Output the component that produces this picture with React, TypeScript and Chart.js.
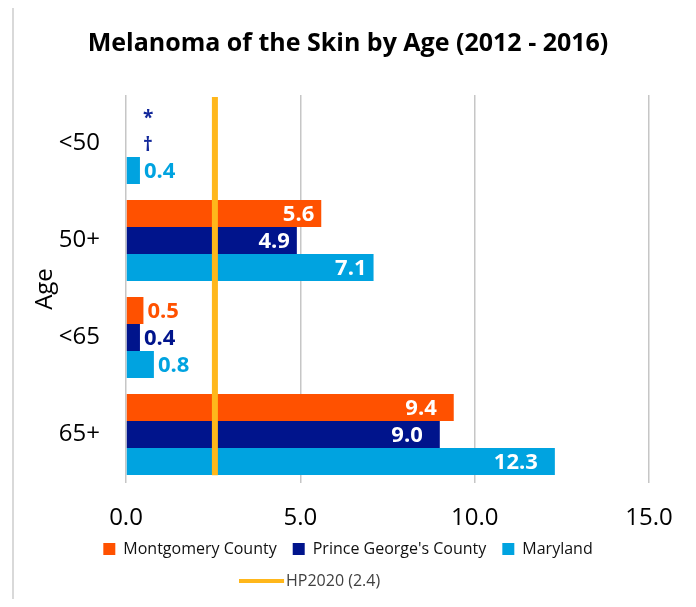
import React, { useEffect, useRef } from "react";
import { Chart, registerables } from "chart.js";

Chart.register(...registerables);

// ---- data ----
const ageGroups = ["<50", "50+", "<65", "65+"];
const seriesNames = ["Montgomery County", "Prince George's County", "Maryland"];
const montgomery: (number | null)[] = [null, 5.6, 0.5, 9.4];
const princeGeorges: (number | null)[] = [null, 4.9, 0.4, 9.0];
const maryland: (number | null)[] = [0.4, 7.1, 0.8, 12.3];
const montgomeryNotes = ["*", "", "", ""];
const princeGeorgesNotes = ["\u2020", "", "", ""];
const marylandNotes = ["", "", "", ""];
const hpLabel = "HP2020 (2.4)";
const hpTarget = 2.55; // where the target line is drawn in the picture
const hpSpan = [0.02, 0.995]; // vertical extent of the target line (secondary axis 0..1)
const xTickValues = [0, 5, 10, 15];

// ---- styles ----
const COLORS = ["#FF5100", "#00148C", "#00A3E0"];
const HP_COLOR = "#FFB71B";
const NOTE_COLOR = "#13289A";
const FONT = "'Open Sans', sans-serif";

const hpLinePlugin = {
  id: "hpLine",
  afterDatasetsDraw(chart: any) {
    const ctx = chart.ctx;
    const xs = chart.scales.x;
    const ys = chart.scales.yHP;
    const x = xs.getPixelForValue(hpTarget);
    ctx.save();
    ctx.strokeStyle = HP_COLOR;
    ctx.lineWidth = 6;
    ctx.beginPath();
    ctx.moveTo(x, ys.getPixelForValue(hpSpan[0]));
    ctx.lineTo(x, ys.getPixelForValue(hpSpan[1]));
    ctx.stroke();
    ctx.restore();
  },
};

const labelsPlugin = {
  id: "barLabels",
  afterDatasetsDraw(chart: any) {
    const ctx = chart.ctx;
    const xScale = chart.scales.x;
    ctx.save();
    ctx.textBaseline = "middle";
    chart.data.datasets.forEach((ds: any, di: number) => {
      const meta = chart.getDatasetMeta(di);
      meta.data.forEach((bar: any, i: number) => {
        const v = ds.data[i];
        const { x, y } = bar.getProps(["x", "y"], true);
        if (v == null) {
          const note = ds.notes && ds.notes[i];
          if (note) {
            ctx.font = `bold 19px ${FONT}`;
            ctx.fillStyle = NOTE_COLOR;
            ctx.textAlign = "left";
            ctx.fillText(note, xScale.getPixelForValue(0) + 17, y + 2);
          }
          return;
        }
        const text = Number(v).toFixed(1);
        ctx.font = `bold 22px ${FONT}`;
        const tw = ctx.measureText(text).width;
        const x0 = xScale.getPixelForValue(0);
        const barW = x - x0;
        const inset = v > 8 ? 17 : 7;
        if (tw + inset * 2 < barW) {
          ctx.fillStyle = "#FFFFFF";
          ctx.textAlign = "right";
          ctx.fillText(text, x - inset, y + 1);
        } else {
          ctx.fillStyle = ds.backgroundColor;
          ctx.textAlign = "left";
          ctx.fillText(text, x + 4, y + 1);
        }
      });
    });
    ctx.restore();
  },
};

export default function App() {
  const canvasRef = useRef<HTMLCanvasElement | null>(null);

  useEffect(() => {
    if (!canvasRef.current) return;

    const hpImg = document.createElement("canvas");
    hpImg.width = 66;
    hpImg.height = 4;
    const hctx = hpImg.getContext("2d");
    if (hctx) {
      hctx.fillStyle = HP_COLOR;
      hctx.fillRect(0, 0, 45, 4);
    }

    const barSets = [montgomery, princeGeorges, maryland].map((arr, i) => ({
      label: seriesNames[i],
      data: arr,
      notes: [montgomeryNotes, princeGeorgesNotes, marylandNotes][i],
      backgroundColor: COLORS[i],
      borderWidth: 0,
      categoryPercentage: 0.835,
      barPercentage: 1,
      xAxisID: "x",
      yAxisID: "y",
    }));

    const chart = new Chart(canvasRef.current, {
      type: "bar",
      data: {
        labels: ageGroups,
        datasets: barSets,
      },
      options: {
        indexAxis: "y",
        animation: false,
        responsive: false,
        maintainAspectRatio: false,
        layout: { padding: 0 },
        font: { family: FONT },
        plugins: {
          tooltip: { enabled: false },
          title: {
            display: true,
            text: "Melanoma of the Skin by Age (2012 - 2016)",
            color: "#000000",
            font: { family: FONT, size: 25, weight: "bold" },
            padding: { top: 21, bottom: 36 },
          },
          legend: {
            display: true,
            position: "bottom",
            labels: {
              usePointStyle: true,
              boxWidth: 12,
              boxHeight: 12,
              padding: 16,
              color: "#1a1a1a",
              font: { family: FONT, size: 16 },
              generateLabels: () => {
                const items: any[] = seriesNames.map((name, i) => ({
                  text: name,
                  fillStyle: COLORS[i],
                  strokeStyle: COLORS[i],
                  lineWidth: 0,
                  pointStyle: "rect",
                  hidden: false,
                  datasetIndex: i,
                  fontColor: "#111111",
                }));
                items.push({
                  text: hpLabel + "\u00A0".repeat(12),
                  fillStyle: HP_COLOR,
                  strokeStyle: HP_COLOR,
                  lineWidth: 0,
                  pointStyle: hpImg,
                  hidden: false,
                  fontColor: "#404040",
                });
                return items;
              },
            },
          },
        },
        scales: {
          x: {
            type: "linear",
            position: "bottom",
            min: 0,
            max: 15,
            afterBuildTicks: (s: any) => {
              s.ticks = xTickValues.map((v) => ({ value: v }));
            },
            afterFit: (s: any) => {
              s.height = 42;
              s.paddingLeft = 0;
              s.paddingRight = 0;
            },
            ticks: {
              color: "#000000",
              font: { family: FONT, size: 24 },
              padding: 20.6,
              callback: (v: any) => Number(v).toFixed(1),
            },
            grid: {
              display: true,
              color: "#c6c6c6",
              lineWidth: 1.5,
              drawTicks: false,
            },
            border: { display: false },
          },
          y: {
            type: "category",
            position: "left",
            afterFit: (s: any) => {
              s.width = 118;
            },
            ticks: {
              color: "#000000",
              font: { family: FONT, size: 24 },
              padding: 26,
            },
            grid: { display: false, drawTicks: false },
            border: { display: false },
            title: {
              display: true,
              text: "Age",
              color: "#000000",
              font: { family: FONT, size: 24 },
              padding: { top: 23, bottom: 0 },
            },
          },
          yHP: {
            type: "linear",
            position: "right",
            offset: false,
            min: 0,
            max: 1,
            afterFit: (s: any) => {
              s.width = 39;
            },
            ticks: { display: false },
            grid: { display: false, drawTicks: false, offset: false },
            border: { display: false },
          },
        },
      } as any,
      plugins: [hpLinePlugin, labelsPlugin],
    });

    return () => chart.destroy();
  }, []);

  return (
    <div style={{ position: "relative", width: 680, height: 591 }}>
      <canvas
        ref={canvasRef}
        width={680}
        height={591}
        style={{ display: "block", width: 680, height: 591 }}
      />
      <div
        style={{
          position: "absolute",
          left: 4,
          top: -4,
          width: 678,
          height: 603,
          boxSizing: "border-box",
          border: "2px solid #d9d9d9",
          borderBottom: "none",
          pointerEvents: "none",
        }}
      />
    </div>
  );
}
